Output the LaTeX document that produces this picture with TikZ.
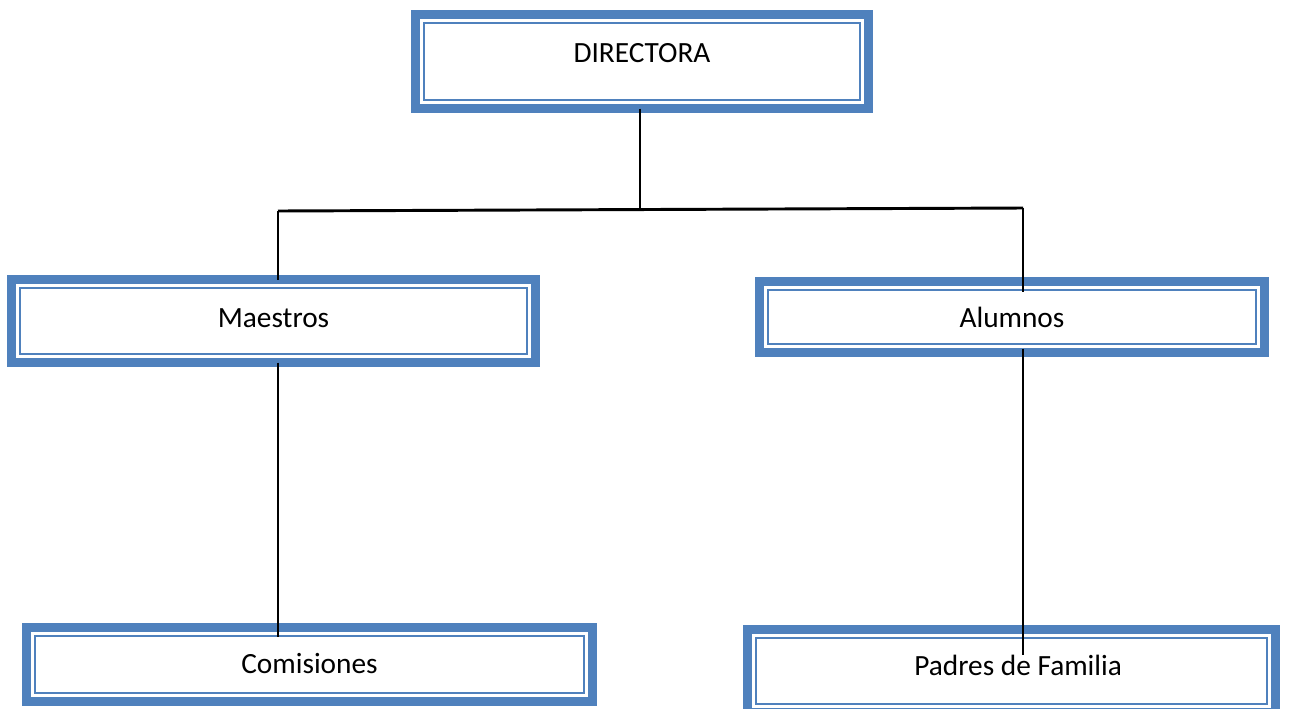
\documentclass[tikz,border=0pt]{standalone}
\usepackage{fontspec}
\setmainfont{Carlito}
\usetikzlibrary{calc}
\definecolor{boxblue}{HTML}{4F81BD}
\tikzset{
  orgbox/.style n args={3}{draw=boxblue, line width=6.75pt, fill=white,
    minimum width=#1*0.75pt, minimum height=#2*0.75pt,
    inner sep=0pt, outer sep=0pt, font=\fontsize{22}{26}\selectfont,
    text height=#3*0.75pt, text depth=0pt,
    path picture={\draw[boxblue, line width=1.9pt]
      ([shift={(6.4pt,-6.4pt)}]path picture bounding box.north west) rectangle
      ([shift={(-6.4pt,6.4pt)}]path picture bounding box.south east);}},
  link/.style={black, line width=1.5pt},
  barline/.style={black, line width=2.2pt}
}
\begin{document}
\begin{tikzpicture}[x=0.75pt,y=-0.75pt]
\useasboundingbox (0,0) rectangle (1293,708);
\clip (0,0) rectangle (1293,708);
\node[orgbox={453}{94}{2}]   (dir) at (642,61.5)   {DIRECTORA};
\node[orgbox={524}{83}{13}]  (mae) at (273.5,321)  {Maestros};
\node[orgbox={505}{71}{21}]  (alu) at (1012,317)   {Alumnos};
\node[orgbox={566}{74}{18}]  (com) at (309.5,664.5) {Comisiones};
\node[orgbox={528}{83}{9}]   (pad) at (1011.5,671) {\hspace*{10pt}Padres de Familia};
\coordinate (hl) at (278,211);
\coordinate (hm) at (640,209.5);
\coordinate (hr) at (1023,208);
\draw[link] (dir.south -| hm) -- (hm);
\draw[barline] (hl) -- (hr);
\draw[link] (hl) -- (hl |- mae.north);
\draw[link] (hr) -- ($(hr |- alu.north)+(0,10)$);
\draw[link] (mae.south -| hl) -- ($(hl |- com.north)+(0,9)$);
\draw[link] ($(hr |- alu.south)+(0,-4)$) -- ($(hr |- pad.north)+(0,25)$);
\end{tikzpicture}
\end{document}
